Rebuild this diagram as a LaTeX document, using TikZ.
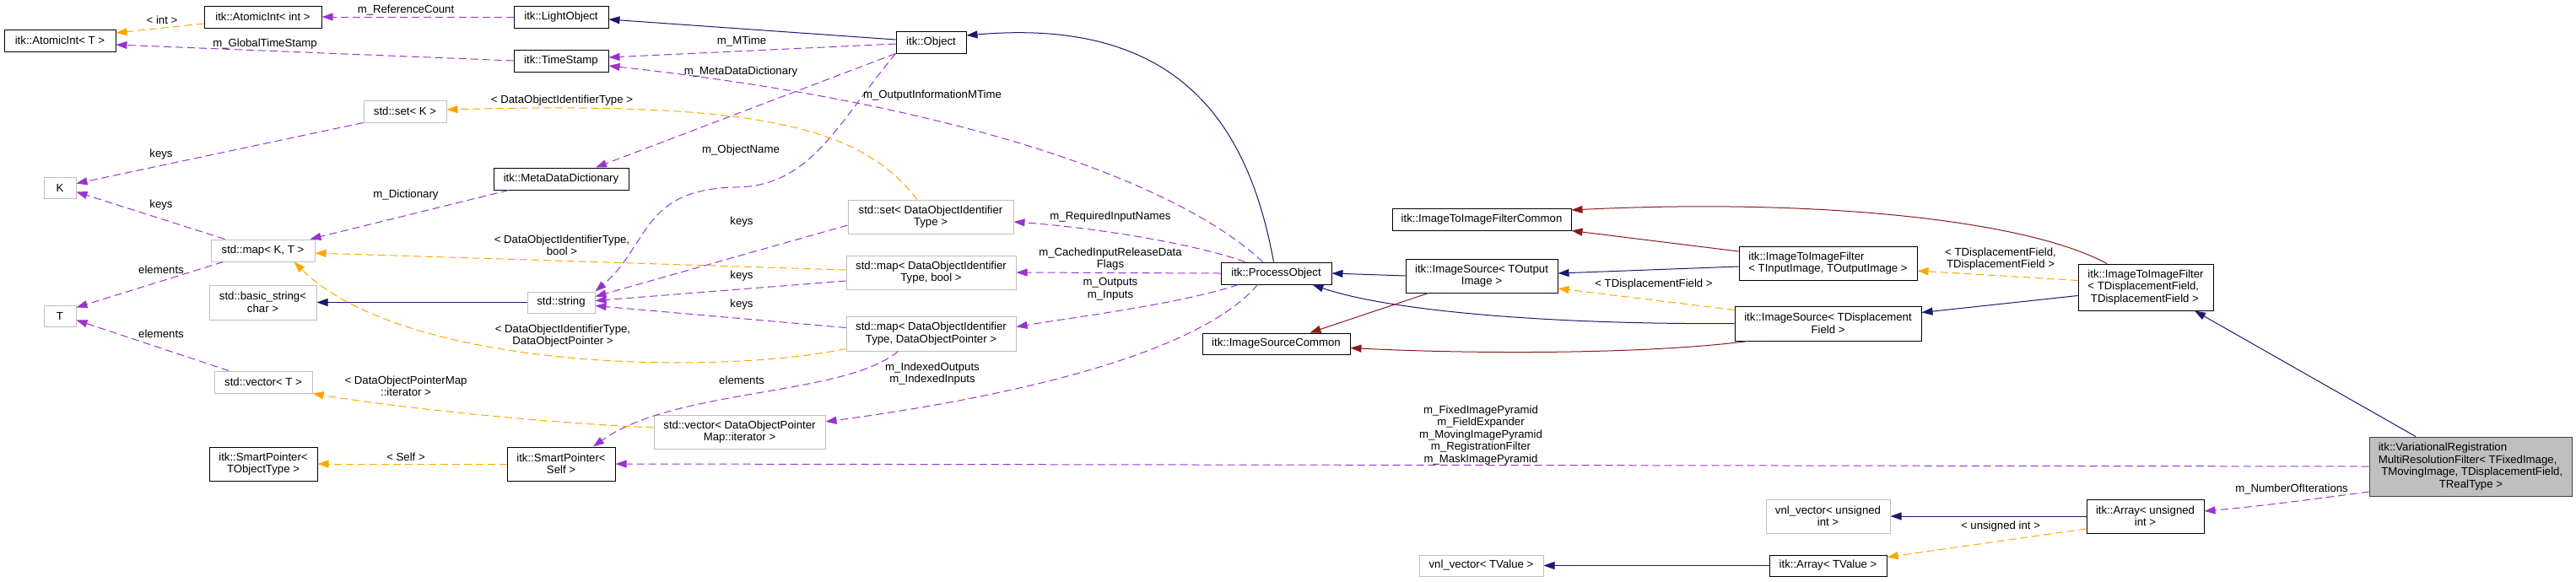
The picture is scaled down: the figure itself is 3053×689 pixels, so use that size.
\documentclass[tikz,border=0pt]{standalone}
\usepackage{fontspec}
\setmainfont{Liberation Sans}
\usetikzlibrary{arrows.meta}
\definecolor{inhblue}{HTML}{191970}
\definecolor{protred}{HTML}{8B1A1A}
\definecolor{usepurple}{HTML}{9A32CD}
\definecolor{tmplorange}{HTML}{FFA500}
\definecolor{extgray}{HTML}{BFBFBF}

\begin{document}
\begin{tikzpicture}[
  x=1pt, y=-1pt,
  font=\fontsize{13.2}{14.5}\selectfont,
  >={Triangle[length=13pt,width=9pt]},
  cls/.style={rectangle, draw=black, line width=1pt, fill=white, inner sep=0pt,
              minimum height=26pt, align=center},
  ext/.style={cls, draw=extgray},
  main/.style={cls, draw=black!75, fill=extgray},
  inherit/.style={->, line width=1pt, draw=inhblue},
  protinh/.style={->, line width=1pt, draw=protred},
  usage/.style={->, line width=1pt, draw=usepurple, dash pattern=on 9pt off 5pt},
  tmpl/.style={->, line width=1pt, draw=tmplorange, dash pattern=on 9pt off 5pt},
  lbl/.style={align=center, inner sep=0pt},
]
\useasboundingbox (0,0) rectangle (3053,689);

\node[cls, minimum width=132pt] (aiT) at (71,48) {itk::AtomicInt< T >};
\node[cls, minimum width=139pt] (aiInt) at (311.5,20) {itk::AtomicInt< int >};
\node[cls, minimum width=112pt] (light) at (665,20) {itk::LightObject};
\node[cls, minimum width=112pt] (stamp) at (665,72) {itk::TimeStamp};
\node[ext, minimum width=98pt] (setK) at (480,132) {std::set< K >};
\node[ext, minimum width=38pt, minimum height=25pt] (K) at (71,222.5) {K};
\node[cls, minimum width=160pt] (mdd) at (665,212) {itk::MetaDataDictionary};
\node[ext, minimum width=123pt] (mapKT) at (311.5,297) {std::map< K, T >};
\node[ext, minimum width=127pt, minimum height=41pt] (bstr) at (311.5,358.5) {std::basic\_string<\\char >};
\node[ext, minimum width=80pt, minimum height=25pt] (str) at (665,358.5) {std::string};
\node[ext, minimum width=38pt, minimum height=25pt] (T) at (71,374.5) {T};
\node[ext, minimum width=116pt] (vecT) at (312,453) {std::vector< T >};
\node[cls, minimum width=128pt, minimum height=40pt] (spObj) at (312,550) {itk::SmartPointer<\\TObjectType >};
\node[cls, minimum width=128pt, minimum height=40pt] (spSelf) at (665,550) {itk::SmartPointer<\\Self >};
\node[ext, minimum width=203pt, minimum height=40pt] (vecIt) at (876.5,512) {std::vector< DataObjectPointer\\Map::iterator >};
\node[cls, minimum width=83pt] (obj) at (1103.5,50) {itk::Object};
\node[ext, minimum width=196pt, minimum height=40pt] (setId) at (1103,257) {std::set< DataObjectIdentifier\\Type >};
\node[ext, minimum width=201pt, minimum height=40pt] (mapBool) at (1103.5,323) {std::map< DataObjectIdentifier\\Type, bool >};
\node[ext, minimum width=201pt, minimum height=41pt] (mapPtr) at (1103.5,395.5) {std::map< DataObjectIdentifier\\Type, DataObjectPointer >};
\node[cls, minimum width=131pt] (proc) at (1512.5,324) {itk::ProcessObject};
\node[cls, minimum width=175pt, minimum height=25pt] (srcCommon) at (1512.5,407.5) {itk::ImageSourceCommon};
\node[cls, minimum width=180pt, minimum height=40pt] (srcOut) at (1756,327) {itk::ImageSource< TOutput\\Image >};
\node[cls, minimum width=212pt] (filtCommon) at (1756,260) {itk::ImageToImageFilterCommon};
\node[ext, minimum width=147pt, minimum height=25pt] (vnlVal) at (1755.5,670.5) {vnl\_vector< TValue >};
\node[cls, minimum width=211pt, minimum height=40pt, align=left] (filtIO) at (2166.5,312) {itk::ImageToImageFilter\\< TInputImage, TOutputImage >};
\node[cls, minimum width=221pt, minimum height=41pt] (srcField) at (2166.5,383.5) {itk::ImageSource< TDisplacement\\Field >};
\node[cls, minimum width=160pt, minimum height=55pt, align=left] (filtField) at (2543,340.5) {itk::ImageToImageFilter\\< TDisplacementField,\\\hspace*{3.5pt}TDisplacementField >};
\node[main, minimum width=240pt, minimum height=70pt, align=left] (vrmr) at (2928,553) {itk::VariationalRegistration\\MultiResolutionFilter< TFixedImage,\\\hspace*{3.5pt}TMovingImage, TDisplacementField,\\\hspace*{72pt}TRealType >};
\node[cls, minimum width=139pt, minimum height=40pt] (arrUInt) at (2542.5,612) {itk::Array< unsigned\\int >};
\node[ext, minimum width=147pt, minimum height=40pt] (vnlUInt) at (2166.5,612) {vnl\_vector< unsigned\\int >};
\node[cls, minimum width=139pt, minimum height=25pt] (arrVal) at (2166.5,670.5) {itk::Array< TValue >};

\draw[inherit] ([yshift=3pt]obj.west) -- ([yshift=-3pt]light.east);
\draw[inherit] ([xshift=-3pt]proc.north) .. controls (1480,150) and (1400,20) .. ([yshift=8pt]obj.east);
\draw[inherit] (str.west) -- (bstr.east);
\draw[inherit] (srcOut.west) -- (proc.east);
\draw[inherit] (srcField.west) .. controls (1850,385) and (1650,370) .. ([xshift=43pt]proc.south);
\draw[inherit] ([yshift=-4pt]filtIO.west) -- ([yshift=3pt]srcOut.east);
\draw[inherit] ([yshift=-10pt]filtField.west) -- ([yshift=13pt]srcField.east);
\draw[inherit] ([xshift=-65pt]vrmr.north) -- ([xshift=58pt]filtField.south);
\draw[inherit] (arrUInt.west) -- (vnlUInt.east);
\draw[inherit] (arrVal.west) -- (vnlVal.east);

\draw[protinh] ([xshift=-63pt]srcOut.south) -- ([xshift=40pt]srcCommon.north);
\draw[protinh] ([xshift=-95pt]srcField.south) .. controls (1950,420) and (1750,420) .. ([yshift=-5pt]srcCommon.east);
\draw[protinh] ([yshift=14pt]filtIO.west) -- (filtCommon.south east);
\draw[protinh] ([xshift=-46pt]filtField.north) .. controls (2400,260) and (2150,235) .. ([yshift=11pt]filtCommon.east);

\draw[usage] (light.west) -- (aiInt.east);
\draw[usage] (stamp.west) -- ([yshift=-5pt]aiT.east);
\draw[usage] ([yshift=-2pt]obj.west) -- ([yshift=4pt]stamp.east);
\draw[usage] ([xshift=-16pt]proc.north) .. controls (1400,220) and (1150,125) .. ([yshift=-6pt]stamp.east);
\draw[usage] (obj.south west) -- ([xshift=41pt]mdd.north);
\draw[usage] (obj.south west) .. controls (990,150) and (960,222) .. (870,222)
  .. controls (760,225) and (770,290) .. (str.north east);
\draw[usage] (setK.south west) -- ([yshift=5pt]K.east);
\draw[usage] ([xshift=-45pt]mapKT.north) -- ([yshift=-5pt]K.east);
\draw[usage] ([xshift=-62pt]mdd.south) -- ([xshift=56pt]mapKT.north);
\draw[usage] ([yshift=-10pt]setId.west) -- ([yshift=7pt]str.east);
\draw[usage] ([yshift=-10pt]mapBool.west) -- ([yshift=2pt]str.east);
\draw[usage] ([yshift=7pt]mapPtr.west) -- ([yshift=-4pt]str.east);
\draw[usage] ([xshift=-47pt]mapKT.south) -- ([yshift=-3pt]T.north east);
\draw[usage] ([xshift=-41pt]vecT.north) -- ([yshift=-5pt]T.east);
\draw[usage] ([xshift=-39pt]mapPtr.south) .. controls (1000,470) and (800,460) .. ([xshift=38pt]spSelf.north);
\draw[usage] ([xshift=-37pt]proc.north) .. controls (1420,290) and (1300,270) .. ([yshift=-6pt]setId.east);
\draw[usage] (proc.west) -- (mapBool.east);
\draw[usage] ([xshift=-45pt]proc.south) .. controls (1400,360) and (1280,375) .. ([yshift=8pt]mapPtr.east);
\draw[usage] ([xshift=-22pt]proc.south) .. controls (1420,420) and (1200,470) .. ([yshift=12pt]vecIt.east);
\draw[usage] (vrmr.west) -- (spSelf.east);
\draw[usage] ([yshift=-30pt]vrmr.west) .. controls (2740,592) and (2680,600) .. ([yshift=6pt]arrUInt.east);

\draw[tmpl] ([yshift=-8pt]aiInt.west) -- ([yshift=9pt]aiT.east);
\draw[tmpl] ([xshift=-16pt]setId.north) .. controls (1020,150) and (900,120) .. ([yshift=2pt]setK.east);
\draw[tmpl] ([yshift=3pt]mapBool.west) -- ([yshift=-3pt]mapKT.east);
\draw[tmpl] ([yshift=3pt]mapPtr.south west) .. controls (850,445) and (480,440) .. ([xshift=37pt]mapKT.south);
\draw[tmpl] ([yshift=5pt]vecIt.west) .. controls (620,500) and (450,480) .. (vecT.south east);
\draw[tmpl] (spSelf.west) -- (spObj.east);
\draw[tmpl] ([yshift=-5pt]srcField.north west) -- ([yshift=-15pt]srcOut.east);
\draw[tmpl] ([yshift=8pt]filtField.west) -- ([yshift=-9pt]filtIO.east);
\draw[tmpl] ([yshift=-15pt]arrUInt.west) -- ([yshift=10pt]arrVal.east);

\node[lbl] (lInt) at (192,24) {< int >};
\node[lbl] (lRefCount) at (481,12) {m\_ReferenceCount};
\node[lbl] (lGlobal) at (314,52) {m\_GlobalTimeStamp};
\node[lbl] (lMTime) at (879,49) {m\_MTime};
\node[lbl] (lDict) at (878,85) {m\_MetaDataDictionary};
\node[lbl] (lOutMTime) at (1105,113) {m\_OutputInformationMTime};
\node[lbl] (lName) at (878,178) {m\_ObjectName};
\node[lbl] (lKeysA) at (191,183) {keys};
\node[lbl] (lKeysB) at (191,243) {keys};
\node[lbl] (lDictionary) at (481,231) {m\_Dictionary};
\node[lbl] (lIdType) at (666,119) {< DataObjectIdentifierType >};
\node[lbl] (lIdBool) at (666,291) {< DataObjectIdentifierType,\\bool >};
\node[lbl] (lIdPtr) at (667,398) {< DataObjectIdentifierType,\\DataObjectPointer >};
\node[lbl] (lKeysC) at (879,263) {keys};
\node[lbl] (lKeysD) at (879,327) {keys};
\node[lbl] (lKeysE) at (879,361) {keys};
\node[lbl] (lElemA) at (191,320) {elements};
\node[lbl] (lElemB) at (191,396) {elements};
\node[lbl] (lPtrMap) at (481,458) {< DataObjectPointerMap\\::iterator >};
\node[lbl] (lElemC) at (879,451) {elements};
\node[lbl] (lSelf) at (481,542) {< Self >};
\node[lbl] (lReq) at (1316,257) {m\_RequiredInputNames};
\node[lbl] (lCached) at (1316,307) {m\_CachedInputReleaseData\\Flags};
\node[lbl] (lInOut) at (1316,343) {m\_Outputs\\m\_Inputs};
\node[lbl] (lIndexed) at (1105,443) {m\_IndexedOutputs\\m\_IndexedInputs};
\node[lbl] (lField) at (1960,337) {< TDisplacementField >};
\node[lbl] (lFields) at (2371,307) {< TDisplacementField,\\TDisplacementField >};
\node[lbl] (lMembers) at (1755,516) {m\_FixedImagePyramid\\m\_FieldExpander\\m\_MovingImagePyramid\\m\_RegistrationFilter\\m\_MaskImagePyramid};
\node[lbl] (lIter) at (2716,580) {m\_NumberOfIterations};
\node[lbl] (lUInt) at (2371,624) {< unsigned int >};

\end{tikzpicture}
\end{document}
